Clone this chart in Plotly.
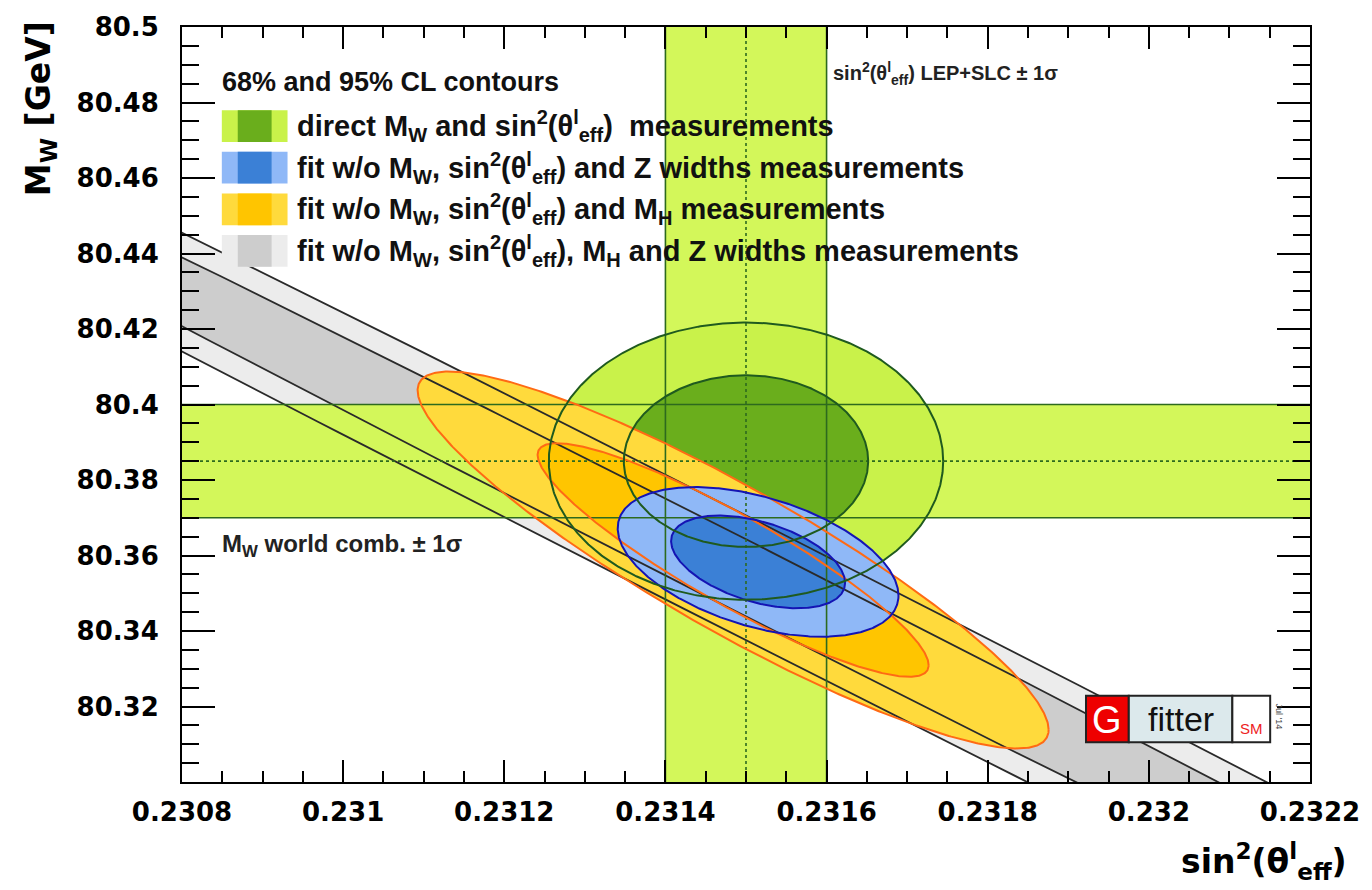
import numpy as np
import plotly.graph_objects as go

# ---------------- data ----------------
X_RANGE = [0.2308, 0.2322]
Y_RANGE = [80.30, 80.50]
x_tick_vals = [0.2308, 0.2310, 0.2312, 0.2314, 0.2316, 0.2318, 0.2320, 0.2322]
x_tick_text = ["0.2308", "0.231", "0.2312", "0.2314", "0.2316", "0.2318", "0.232", "0.2322"]
y_tick_vals = [80.32, 80.34, 80.36, 80.38, 80.40, 80.42, 80.44, 80.46, 80.48, 80.50]
y_tick_text = ["80.32", "80.34", "80.36", "80.38", "80.4", "80.42", "80.44", "80.46", "80.48", "80.5"]

# direct measurements (centre, 1 sigma)
sin2_lep_slc = 0.23150
sin2_lep_slc_err = 0.00010
mw_world = 80.385
mw_world_err = 0.015

# fit results: centre, sigmas, correlation
fit_keys = ["direct", "noZ", "noMH", "noMH_noZ"]
fit_center_x = [0.23150, 0.231515, 0.231484, 0.231484]
fit_center_y = [80.385, 80.3583, 80.3588, 80.3558]
fit_sigma_x = [0.00010, 0.0000712, 0.000160, 0.00100]
fit_sigma_y = [0.015, 0.0081, 0.0204, 0.1085]
fit_rho = [0.0, -0.45, -0.90, -0.99806]

cl_names = ["68", "95"]
cl_delta_chi2 = [2.30, 5.99]

fill_68 = {"direct": "#6aae1c", "noZ": "#3b80d6", "noMH": "#ffc500", "noMH_noZ": "#cdcdcd"}
fill_95 = {"direct": "#c9f24a", "noZ": "#8fb8f7", "noMH": "#ffda3c", "noMH_noZ": "#ececec"}
edge_col = {"direct": "#1f5a1f", "noZ": "#1414b4", "noMH": "#ff6a14", "noMH_noZ": "#2a2a2a"}
band_fill = "#d3f75a"
band_edge = "#2d6a1e"


def sub(t):
    return f"<sub><span style='font-size:20px'>{t}</span></sub>"


def sup(t):
    return f"<sup><span style='font-size:20px'>{t}</span></sup>"


THETA = f"θ{sup('l')}{sub('eff')}"
legend_texts = [
    f"direct M{sub('W')} and sin{sup('2')}({THETA})  measurements",
    f"fit w/o M{sub('W')}, sin{sup('2')}({THETA}) and Z widths measurements",
    f"fit w/o M{sub('W')}, sin{sup('2')}({THETA}) and M{sub('H')} measurements",
    f"fit w/o M{sub('W')}, sin{sup('2')}({THETA}), M{sub('H')} and Z widths measurements",
]

# ---------------- geometry helpers ----------------
L, R, T, B = 182, 57, 20, 108
W, H = 1372, 890
PW, PH = W - L - R, H - T - B


def px(xp):
    return (xp - L) / PW


def py(yp):
    return (H - B - yp) / PH


def ellipse(cx, cy, sx, sy, rho, dchi2, n=600):
    t = np.linspace(0, 2 * np.pi, n)
    k = np.sqrt(dchi2)
    ex = cx + k * sx * np.cos(t)
    ey = cy + k * sy * (rho * np.cos(t) + np.sqrt(1 - rho ** 2) * np.sin(t))
    return ex, ey


fig = go.Figure()


def add_fill(xs, ys, color):
    fig.add_trace(go.Scatter(x=xs, y=ys, mode="lines", fill="toself", fillcolor=color,
                             line=dict(width=0, color=color), hoverinfo="skip", showlegend=False))


def add_line(xs, ys, color, width=2, dash="solid"):
    fig.add_trace(go.Scatter(x=xs, y=ys, mode="lines", line=dict(width=width, color=color, dash=dash),
                             hoverinfo="skip", showlegend=False))


contours = {}
for i, key in enumerate(fit_keys):
    for name, d in zip(cl_names, cl_delta_chi2):
        contours[(key, name)] = ellipse(fit_center_x[i], fit_center_y[i], fit_sigma_x[i],
                                        fit_sigma_y[i], fit_rho[i], d)

# fills: gray first, then bands, then direct, orange, blue
add_fill(*contours[("noMH_noZ", "95")], fill_95["noMH_noZ"])
add_fill(*contours[("noMH_noZ", "68")], fill_68["noMH_noZ"])

vx0, vx1 = sin2_lep_slc - sin2_lep_slc_err, sin2_lep_slc + sin2_lep_slc_err
hy0, hy1 = mw_world - mw_world_err, mw_world + mw_world_err
add_fill([vx0, vx1, vx1, vx0, vx0], [Y_RANGE[0], Y_RANGE[0], Y_RANGE[1], Y_RANGE[1], Y_RANGE[0]], band_fill)
add_fill([X_RANGE[0], X_RANGE[1], X_RANGE[1], X_RANGE[0], X_RANGE[0]], [hy0, hy0, hy1, hy1, hy0], band_fill)

for key in ["direct", "noMH", "noZ"]:
    add_fill(*contours[(key, "95")], fill_95[key])
    add_fill(*contours[(key, "68")], fill_68[key])

# lines
for key in ["noMH_noZ"]:
    add_line(*contours[(key, "95")], edge_col[key], 1.8)
    add_line(*contours[(key, "68")], edge_col[key], 1.8)

for xv in [vx0, vx1]:
    add_line([xv, xv], Y_RANGE, band_edge, 1.6)
for yv in [hy0, hy1]:
    add_line(X_RANGE, [yv, yv], band_edge, 1.6)
add_line([sin2_lep_slc, sin2_lep_slc], Y_RANGE, band_edge, 1.6, "dot")
add_line(X_RANGE, [mw_world, mw_world], band_edge, 1.6, "dot")

for key in ["noMH", "noZ", "direct"]:
    add_line(*contours[(key, "95")], edge_col[key], 2)
    add_line(*contours[(key, "68")], edge_col[key], 2)

# ---------------- layout ----------------
tickfont = dict(family="DejaVu Sans", size=26, color="black", weight="bold")
fig.update_layout(
    width=W, height=H,
    margin=dict(l=L, r=R, t=T, b=B),
    paper_bgcolor="white", plot_bgcolor="white",
    showlegend=False,
    xaxis=dict(range=X_RANGE, tickmode="array", tickvals=x_tick_vals, ticktext=x_tick_text,
               ticks="inside", ticklen=22, tickwidth=1.5, tickcolor="black",
               minor=dict(ticks="inside", ticklen=11, tickwidth=1.5, tickcolor="black",
                          tick0=0.2308, dtick=0.00005),
               showline=True, linewidth=2, linecolor="black", mirror="allticks",
               showgrid=False, zeroline=False, tickfont=tickfont, ticklabelstandoff=6),
    yaxis=dict(range=Y_RANGE, tickmode="array", tickvals=y_tick_vals, ticktext=y_tick_text,
               ticks="inside", ticklen=33, tickwidth=1.5, tickcolor="black",
               minor=dict(ticks="inside", ticklen=17, tickwidth=1.5, tickcolor="black",
                          tick0=80.30, dtick=0.005),
               showline=True, linewidth=2, linecolor="black", mirror="allticks",
               showgrid=False, zeroline=False, tickfont=tickfont, ticklabelstandoff=16),
)

ann = []
# axis titles
ann.append(dict(text="M<sub>W</sub> [GeV]", x=px(40), y=py(12), xref="paper", yref="paper",
                xanchor="center", yanchor="top", textangle=-90, showarrow=False,
                font=dict(family="DejaVu Sans", size=33, color="black", weight="bold")))
ann.append(dict(text="sin<sup>2</sup>(θ<sup>l</sup><sub>eff</sub>)", x=px(1354), y=py(888),
                xref="paper", yref="paper", xanchor="right", yanchor="bottom", showarrow=False,
                font=dict(family="DejaVu Sans", size=33, color="black", weight="bold")))
# band labels
ann.append(dict(text="sin<sup>2</sup>(θ<sup>l</sup><sub>eff</sub>) LEP+SLC ± 1σ", x=px(834), y=py(67),
                xref="paper", yref="paper", xanchor="left", yanchor="middle", showarrow=False,
                font=dict(family="Liberation Sans", size=20, color="#222", weight="bold")))
ann.append(dict(text="M<sub>W</sub> world comb. ± 1σ", x=px(220), y=py(543),
                xref="paper", yref="paper", xanchor="left", yanchor="middle", showarrow=False,
                font=dict(family="Liberation Sans", size=24, color="#222", weight="bold")))
# legend
ann.append(dict(text="68% and 95% CL contours", x=px(220), y=py(76), xref="paper", yref="paper",
                xanchor="left", yanchor="middle", showarrow=False,
                font=dict(family="Liberation Sans", size=27, color="#111", weight="bold")))

shapes = []
row_centers = [120, 162, 204, 246]
for i, key in enumerate(fit_keys):
    yc = row_centers[i]
    y0, y1 = py(yc + 16), py(yc - 16)
    shapes.append(dict(type="rect", xref="paper", yref="paper", x0=px(222), x1=px(288), y0=y0, y1=y1,
                       fillcolor=fill_95[key], line=dict(width=0)))
    shapes.append(dict(type="rect", xref="paper", yref="paper", x0=px(238), x1=px(272), y0=y0, y1=y1,
                       fillcolor=fill_68[key], line=dict(width=0)))
    ann.append(dict(text=legend_texts[i], x=px(296), y=py(yc), xref="paper", yref="paper",
                    xanchor="left", yanchor="middle", showarrow=False,
                    font=dict(family="Liberation Sans", size=29, color="#111", weight="bold")))

# Gfitter logo
shapes.append(dict(type="rect", xref="paper", yref="paper", x0=px(1090), x1=px(1133), y0=py(742), y1=py(695),
                   fillcolor="#ee0000", line=dict(width=2, color="#222")))
shapes.append(dict(type="rect", xref="paper", yref="paper", x0=px(1133), x1=px(1237), y0=py(742), y1=py(695),
                   fillcolor="#dce9ec", line=dict(width=2, color="#222")))
shapes.append(dict(type="rect", xref="paper", yref="paper", x0=px(1237), x1=px(1275), y0=py(742), y1=py(695),
                   fillcolor="white", line=dict(width=2, color="#222")))
ann.append(dict(text="G", x=px(1111), y=py(719), xref="paper", yref="paper", showarrow=False,
                xanchor="center", yanchor="middle",
                font=dict(family="Liberation Sans", size=38, color="white")))
ann.append(dict(text="fitter", x=px(1185), y=py(718), xref="paper", yref="paper", showarrow=False,
                xanchor="center", yanchor="middle",
                font=dict(family="Liberation Sans", size=34, color="#111")))
ann.append(dict(text="SM", x=px(1256), y=py(728), xref="paper", yref="paper", showarrow=False,
                xanchor="center", yanchor="middle",
                font=dict(family="Liberation Sans", size=15, color="#ee2222")))
ann.append(dict(text="Jul '14", x=px(1284), y=py(716), xref="paper", yref="paper", showarrow=False,
                xanchor="center", yanchor="middle",
                textangle=90, font=dict(family="Liberation Sans", size=9, color="#444")))

fig.update_layout(annotations=ann, shapes=shapes)
fig.write_html("out.html", config={"displayModeBar": False},
               post_script="document.body.style.margin='0';document.body.style.overflow='hidden';")
